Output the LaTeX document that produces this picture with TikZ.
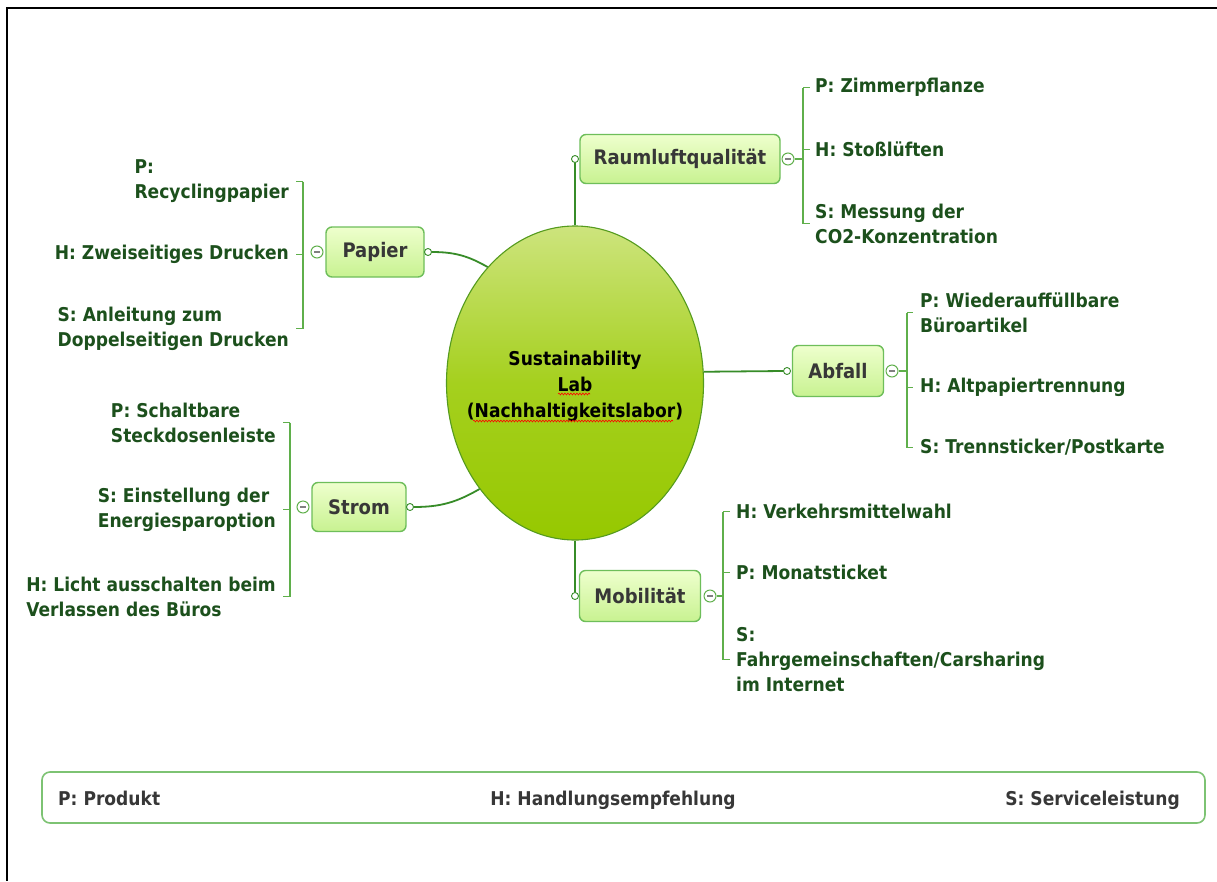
\documentclass[tikz,border=0pt]{standalone}
\usepackage{fontspec}
\newfontfamily\mm{DejaVu Sans}[FakeStretch=0.9]
\usetikzlibrary{shapes.geometric,decorations.pathmorphing}
\definecolor{leaf}{RGB}{28,80,28}
\definecolor{boxtxt}{RGB}{55,55,55}
\definecolor{conn}{RGB}{55,140,40}
\definecolor{brk}{RGB}{95,175,75}
\definecolor{boxline}{RGB}{110,190,90}
\definecolor{boxtop}{RGB}{238,255,205}
\definecolor{boxbot}{RGB}{200,242,145}
\definecolor{elltop}{RGB}{205,228,125}
\definecolor{ellmid}{RGB}{165,208,30}
\definecolor{ellbot}{RGB}{150,200,0}
\definecolor{ellline}{RGB}{85,155,30}
\definecolor{legline}{RGB}{125,195,115}
\tikzset{
  leaf/.style={inner sep=0pt, align=left, text=leaf, yshift=-2.5pt,
    font=\mm\bfseries\fontsize{19}{25}\selectfont},
  branch/.style={draw=boxline, line width=1.4pt, rounded corners=6pt,
    top color=boxtop, bottom color=boxbot, text=boxtxt,
    font=\mm\bfseries\fontsize{20}{24}\selectfont, inner sep=0pt},
  knob/.style={circle, draw=conn, fill=white, line width=0.9pt, minimum size=7pt, inner sep=0pt},
  minusknob/.style={circle, draw=brk, fill=white, line width=1pt, minimum size=12pt, inner sep=0pt,
    path picture={\draw[gray, line width=1.3pt]
      ([xshift=-2.6pt]path picture bounding box.center) -- ([xshift=2.6pt]path picture bounding box.center);}},
  conline/.style={draw=conn, line width=1.8pt},
  brline/.style={draw=brk, line width=1.3pt},
  legtxt/.style={inner sep=0pt, text=boxtxt, font=\mm\bfseries\fontsize{19}{25}\selectfont},
  squiggle/.style={draw=red, line width=0.6pt, decorate,
    decoration={snake, amplitude=0.9pt, segment length=3pt}}
}
\begin{document}
\begin{tikzpicture}[x=1pt,y=-1pt]
\useasboundingbox (0,0) rectangle (1217,881);
\fill[white] (0,0) rectangle (1217,881);
% frame
\draw[line width=2.5pt] (1217,8) -- (7,8) -- (7,881);

% centre
\node[ellipse, draw=ellline, line width=1.1pt, minimum width=257pt, minimum height=314pt,
  top color=elltop, bottom color=ellbot, middle color=ellmid, inner sep=0pt] (c) at (575,383) {};
\node[align=center, inner sep=0pt, font=\mm\bfseries\fontsize{19}{26}\selectfont] (ct) at (575,386)
  {Sustainability\\Lab\\(Nachhaltigkeitslabor)};
\draw[squiggle] (558,394) -- (590,394);
\draw[squiggle] (473,421) -- (673,421);

% branch boxes
\node[branch, minimum width=200pt, minimum height=49pt] (raum) at (680,159) {Raumluftqualität};
\node[branch, minimum width=98pt, minimum height=50pt] (pap) at (375,252) {Papier};
\node[branch, minimum width=91pt, minimum height=51pt] (abf) at (838,371) {Abfall};
\node[branch, minimum width=94pt, minimum height=49pt] (str) at (359,507) {Strom};
\node[branch, minimum width=121pt, minimum height=51pt] (mob) at (640,596) {Mobilität};

% knobs near centre side
\node[knob] (rk) at (575,159) {};
\node[knob] (pk) at (428,252) {};
\node[knob] (ak) at (787,371) {};
\node[knob] (sk) at (410,507) {};
\node[knob] (mk) at (575,596) {};

% connectors from centre
\draw[conline] (c.north) -- (rk.south);
\draw[conline] (pk.east) to[out=0, in=150] (c.127);
\draw[conline] (c.5) -- (ak.west);
\draw[conline] (sk.east) to[out=0, in=210] (c.228);
\draw[conline] (c.south) -- (mk.north);

% minus knobs
\node[minusknob] (rm) at (788,159) {};
\node[minusknob] (pm) at (317,252) {};
\node[minusknob] (am) at (892,371) {};
\node[minusknob] (sm) at (303,507) {};
\node[minusknob] (mm) at (710,596) {};

% bracket x positions
\coordinate (rv) at (803,159);
\coordinate (pv) at (303,252);
\coordinate (av) at (907,371);
\coordinate (sv) at (290,507);
\coordinate (mv) at (723,596);

% Raumluftqualitaet children
\node[leaf, anchor=west] (r1) at (815,85) {P: Zimmerpflanze};
\node[leaf, anchor=west] (r2) at (815,147) {H: Stoßlüften};
\node[leaf, anchor=west] (r3) at (815,221) {S: Messung der\\CO2-Konzentration};
\draw[brline] (rv |- r1.west) -- (rv |- r3.west);
\foreach \n in {r1,r2,r3} \draw[brline, shorten >=5pt] (rv |- \n.west) -- (\n.west);
\draw[brline] (rm.east) -- (rv);

% Papier children
\node[leaf, anchor=east] (p1) at (289,179) {P:\\Recyclingpapier};
\node[leaf, anchor=east] (p2) at (289,252) {H: Zweiseitiges Drucken};
\node[leaf, anchor=east] (p3) at (289,326) {S: Anleitung zum\\Doppelseitigen Drucken};
\draw[brline] (pv |- p1.east) -- (pv |- p3.east);
\foreach \n in {p1,p2,p3} \draw[brline, shorten >=7pt] (pv |- \n.east) -- (\n.east);

% Abfall children
\node[leaf, anchor=west] (a1) at (920,310) {P: Wiederauffüllbare\\Büroartikel};
\node[leaf, anchor=west] (a2) at (920,385) {H: Altpapiertrennung};
\node[leaf, anchor=west] (a3) at (920,445) {S: Trennsticker/Postkarte};
\draw[brline] (av |- a1.west) -- (av |- a3.west);
\foreach \n in {a1,a2,a3} \draw[brline, shorten >=7pt] (av |- \n.west) -- (\n.west);
\draw[brline] (am.east) -- (av);

% Strom children
\node[leaf, anchor=east] (s1) at (276,420) {P: Schaltbare\\Steckdosenleiste};
\node[leaf, anchor=east] (s2) at (276,507) {S: Einstellung der\\Energiesparoption};
\node[leaf, anchor=east] (s3) at (276,594) {H: Licht ausschalten beim\\Verlassen des Büros};
\draw[brline] (sv |- s1.east) -- (sv |- s3.east);
\foreach \n in {s1,s2,s3} \draw[brline, shorten >=7pt] (sv |- \n.east) -- (\n.east);

% Mobilitaet children
\node[leaf, anchor=west] (m1) at (736,509) {H: Verkehrsmittelwahl};
\node[leaf, anchor=west] (m2) at (736,570) {P: Monatsticket};
\node[leaf, anchor=west] (m3) at (736,657) {S:\\Fahrgemeinschaften/Carsharing\\im Internet};
\draw[brline] (mv |- m1.west) -- (mv |- m3.west);
\foreach \n in {m1,m2,m3} \draw[brline, shorten >=6pt] (mv |- \n.west) -- (\n.west);
\draw[brline] (mm.east) -- (mv);

% legend
\node[draw=legline, line width=1.6pt, rounded corners=8pt, fill=white,
  minimum width=1163pt, minimum height=51pt, inner sep=0pt] (leg) at (623.5,797.5) {};
\node[legtxt, anchor=base west] (l1) at (58,805) {P: Produkt};
\node[legtxt, anchor=base] (l2) at (613,805) {H: Handlungsempfehlung};
\node[legtxt, anchor=base east] (l3) at (1180,805) {S: Serviceleistung};
\end{tikzpicture}
\end{document}
